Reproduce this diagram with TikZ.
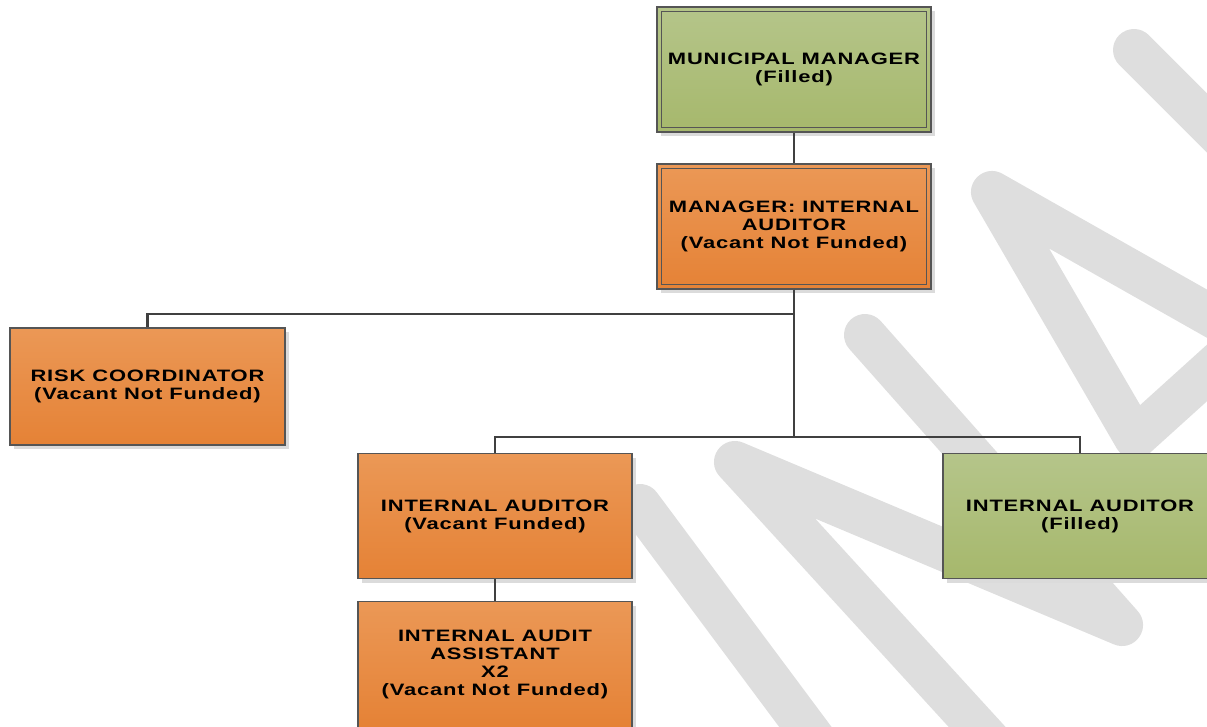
\documentclass[tikz,border=0pt]{standalone}
\usepackage{fontspec}
\setmainfont{Liberation Sans}[FakeStretch=1.33,LetterSpace=5]
\usetikzlibrary{shadows,calc}
\definecolor{wm}{RGB}{222,222,222}
\definecolor{gtop}{RGB}{181,197,138}
\definecolor{gbot}{RGB}{166,184,108}
\definecolor{otop}{RGB}{235,152,86}
\definecolor{obot}{RGB}{229,130,54}
\definecolor{edgecol}{RGB}{85,85,85}
\definecolor{conncol}{RGB}{64,64,64}
\begin{document}
\begin{tikzpicture}[x=1pt,y=-1pt,
  box/.style={rectangle, draw=edgecol, line width=1.2pt, minimum width=274pt, minimum height=125pt,
    inner sep=0pt, align=center, font=\bfseries\fontsize{16.5}{18}\selectfont,
    drop shadow={shadow xshift=4pt, shadow yshift=-4pt, fill=black!14, opacity=1}},
  filledbox/.style={box, top color=gtop, bottom color=gbot},
  vacantbox/.style={box, top color=otop, bottom color=obot},
  innerline/.style={draw=edgecol, line width=1pt},
  conn/.style={draw=conncol, line width=2.2pt},
  trunk/.style={draw=conncol, line width=2.8pt},
  wmark/.style={draw=wm, line width=42pt, line cap=round, line join=round}]
\useasboundingbox (0,0) rectangle (1207,726);
\clip (0,0) rectangle (1207,726);
% watermark
\draw[wmark] (1134,50) -- (1320,236);
\draw[wmark] (1310,372) -- (992,192) -- (1135,438) -- (1270,316);
\draw[wmark] (865,335) -- (1122,625) -- (735,462) -- (1000,752);
\draw[wmark] (640,505) -- (830,760);
% boxes
\node[filledbox] (mm) at (794,69.5) {MUNICIPAL MANAGER\\(Filled)};
\node[vacantbox] (mia) at (794,226.5) {MANAGER: INTERNAL\\AUDITOR\\(Vacant Not Funded)};
\node[vacantbox, minimum width=275pt, minimum height=117pt] (rc) at (147.5,386.5) {RISK COORDINATOR\\(Vacant Not Funded)};
\node[vacantbox] (iav) at (495,516) {INTERNAL AUDITOR\\(Vacant Funded)};
\node[filledbox] (iaf) at (1080,516) {INTERNAL AUDITOR\\(Filled)};
\node[vacantbox, minimum height=126pt] (iaa) at (495,664.5) {INTERNAL AUDIT\\ASSISTANT\\X2\\(Vacant Not Funded)};
% inner borders
\draw[innerline] ([shift={(5pt,-5pt)}]mm.north west) rectangle ([shift={(-5pt,5pt)}]mm.south east);
\draw[innerline] ([shift={(5pt,-5pt)}]mia.north west) rectangle ([shift={(-5pt,5pt)}]mia.south east);
% connectors
\draw[trunk] (mm.south) -- (mia.north);
\draw[conn] (mia.south) -- ++(0,24) -| (rc.north);
\draw[conn] (mia.south) -- ++(0,147) -| (iav.north);
\draw[conn] (mia.south) -- ++(0,147) -| (iaf.north);
\draw[trunk] (mia.south) -- ++(0,147);
\draw[conn] (iav.south) -- (iaa.north);
\end{tikzpicture}
\end{document}
